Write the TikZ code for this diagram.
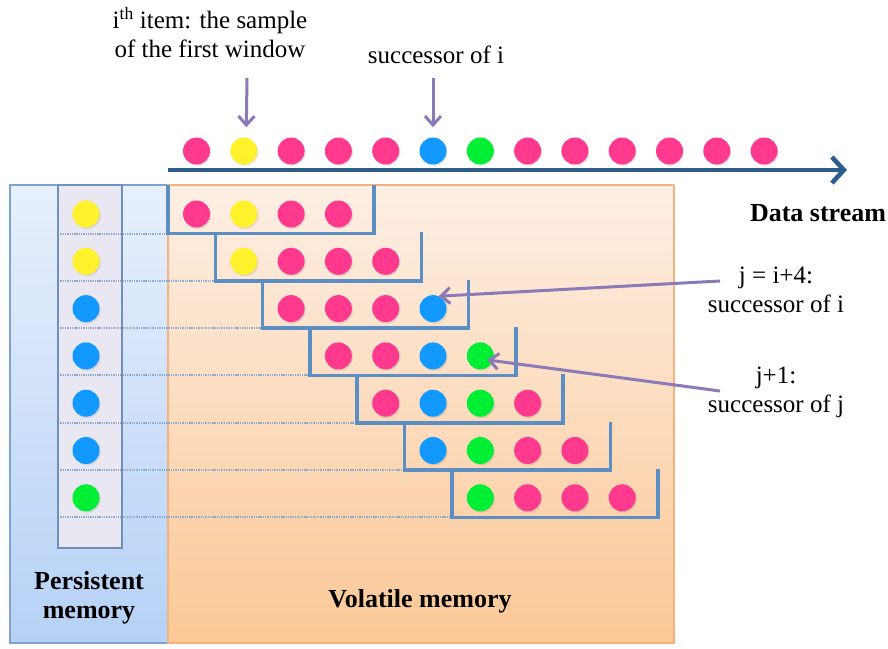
\documentclass[tikz,border=0pt]{standalone}
\usepackage{fontspec}
\setmainfont{Liberation Serif}
\usetikzlibrary{arrows.meta,shadows,calc}

\definecolor{dotpink}{HTML}{FF3A8E}
\definecolor{dotyellow}{HTML}{FFF22C}
\definecolor{dotblue}{HTML}{1199FF}
\definecolor{dotgreen}{HTML}{00EE33}
\definecolor{streamblue}{HTML}{2E5D8C}
\definecolor{bracketblue}{HTML}{5B8EC2}
\definecolor{pointer}{HTML}{8C79B8}
\definecolor{persTop}{HTML}{E7F0FC}
\definecolor{persBot}{HTML}{B6D1F6}
\definecolor{persEdge}{HTML}{7FA2CE}
\definecolor{colFill}{HTML}{E9E7F1}
\definecolor{colEdge}{HTML}{6F8FBF}
\definecolor{volTop}{HTML}{FDEFE4}
\definecolor{volBot}{HTML}{FBC896}
\definecolor{volEdge}{HTML}{F4B27E}
\definecolor{rowline}{HTML}{8FABD2}

\begin{document}
\begin{tikzpicture}[x=1pt,y=-1pt,
  item/.style={circle,minimum size=27pt,inner sep=0pt,draw=none,fill=#1,
    drop shadow={shadow xshift=1.2pt,shadow yshift=-1.4pt,opacity=0.2}},
  txt/.style={font=\fontsize{25}{29}\selectfont,align=center,inner sep=0pt},
  boldtxt/.style={font=\fontsize{26}{29}\selectfont\bfseries,align=center,inner sep=0pt},
  windowbox/.style={draw=bracketblue,line width=3.6pt,line join=miter},
  rowsep/.style={draw=rowline,line width=2pt,dash pattern=on 1.4pt off 0.9pt},
  pointerarrow/.style={draw=pointer,line width=3pt,-{Straight Barb[length=9pt,width=16pt,line width=3pt]}},
  streamarrow/.style={draw=streamblue,line width=4.6pt,-{Straight Barb[length=12pt,width=26pt,line width=4.6pt]}}
]
\useasboundingbox (0,0) rectangle (888,648);

% memory regions
\path[top color=persTop,bottom color=persBot,draw=persEdge,line width=1.6pt]
  (10,185) rectangle (168,643);
\path[top color=volTop,bottom color=volBot,draw=volEdge,line width=1.6pt]
  (168,185) rectangle (674,643);

% persistent memory column
\fill[colFill] (58,185) rectangle (122,548);

% row separators
\foreach \k in {0,...,6}
  \draw[rowsep] (58,{233.5+47.3*\k}) -- ({168+47.3*\k},{233.5+47.3*\k});

\draw[colEdge,line width=1.6pt] (58,185) rectangle (122,548);

% data stream
\coordinate (streamTail) at (168,170);
\coordinate (streamHead) at (847,170);
\draw[streamarrow] (streamTail) -- (streamHead);
\foreach \c [count=\i from 0] in {dotpink,dotyellow,dotpink,dotpink,dotpink,dotblue,dotgreen,dotpink,dotpink,dotpink,dotpink,dotpink,dotpink}
  \node[item=\c] (s\i) at ({196.5+47.3*\i},151) {};

% persistent samples
\foreach \c [count=\k from 0] in {dotyellow,dotyellow,dotblue,dotblue,dotblue,dotblue,dotgreen}
  \node[item=\c] (p\k) at (86,{214+47.3*\k}) {};

% sliding windows
\foreach \k in {0,...,6}
  \draw[windowbox] ({168+47.3*\k},{185+47.3*\k}) -- ++(0,48.5) -- ++(206,0) -- ++(0,-48.5);

\foreach \c [count=\m from 0] in {dotpink,dotyellow,dotpink,dotpink}
  \node[item=\c] (w0-\m) at ({196.5+47.3*(0+\m)},{214+47.3*0}) {};
\foreach \c [count=\m from 0] in {dotyellow,dotpink,dotpink,dotpink}
  \node[item=\c] (w1-\m) at ({196.5+47.3*(1+\m)},{214+47.3*1}) {};
\foreach \c [count=\m from 0] in {dotpink,dotpink,dotpink,dotblue}
  \node[item=\c] (w2-\m) at ({196.5+47.3*(2+\m)},{214+47.3*2}) {};
\foreach \c [count=\m from 0] in {dotpink,dotpink,dotblue,dotgreen}
  \node[item=\c] (w3-\m) at ({196.5+47.3*(3+\m)},{214+47.3*3}) {};
\foreach \c [count=\m from 0] in {dotpink,dotblue,dotgreen,dotpink}
  \node[item=\c] (w4-\m) at ({196.5+47.3*(4+\m)},{214+47.3*4}) {};
\foreach \c [count=\m from 0] in {dotblue,dotgreen,dotpink,dotpink}
  \node[item=\c] (w5-\m) at ({196.5+47.3*(5+\m)},{214+47.3*5}) {};
\foreach \c [count=\m from 0] in {dotgreen,dotpink,dotpink,dotpink}
  \node[item=\c] (w6-\m) at ({196.5+47.3*(6+\m)},{214+47.3*6}) {};

% labels
\node[txt] (firstSample) at (210,33) {i\textsuperscript{th} item: the sample\\of the first window};
\node[txt] (succTop) at (436,55) {successor of i};
\node[boldtxt] (streamLbl) at (818,213) {Data stream};
\node[txt] (jLbl) at (776,290) {j = i+4:\\successor of i};
\node[txt] (j1Lbl) at (776,392) {j+1:\\successor of j};
\node[boldtxt] (persLbl) at (89,598) {Persistent\\memory};
\node[boldtxt] (volLbl) at (420,601) {Volatile memory};

% pointers
\coordinate (firstFrom) at (247,78);
\coordinate (succFrom) at (433,78);
\coordinate (jFrom) at (720,281);
\coordinate (j1From) at (720,391);
\draw[pointerarrow] (firstFrom) -- ([xshift=2.5pt,yshift=10pt]s1.north);
\draw[pointerarrow] (succFrom) -- ([yshift=10pt]s5.north);
\draw[pointerarrow] (jFrom) -- (w2-3.65);
\draw[pointerarrow] (j1From) -- ([shift={(7,4)}]w3-3.center);
\end{tikzpicture}
\end{document}
